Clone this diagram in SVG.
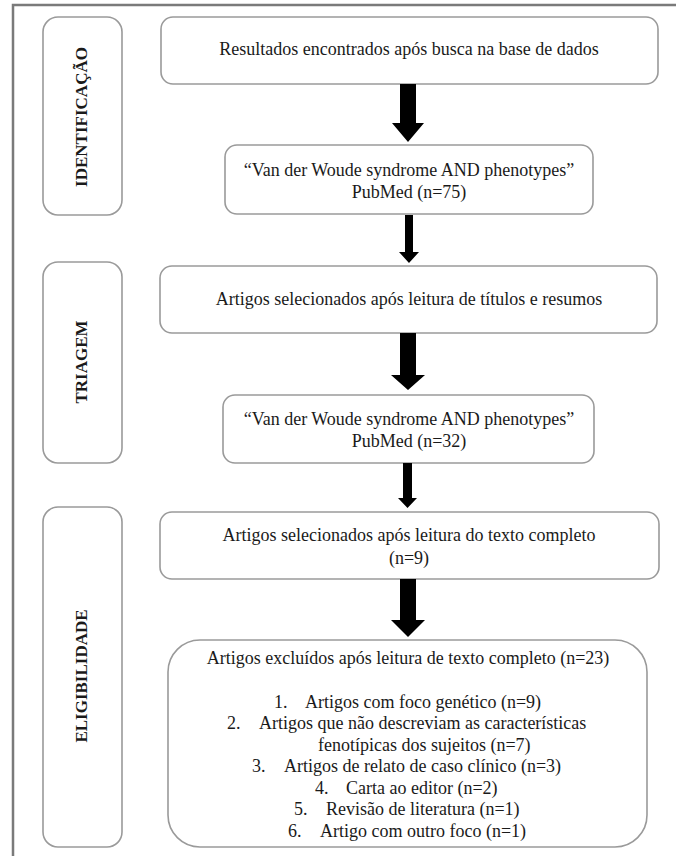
<svg xmlns="http://www.w3.org/2000/svg" width="676" height="856" viewBox="0 0 676 856">
<style>
.frame{fill:none;stroke:#7a7a7a;stroke-width:2.5}
.box{fill:#fff;stroke:#9a9a9a;stroke-width:1.6}
.t{font-family:"Liberation Serif","Times New Roman",serif;font-size:18px;fill:#1a1a1a}
.c{text-anchor:middle}
.side{font-family:"Liberation Serif","Times New Roman",serif;font-size:17px;font-weight:bold;fill:#1a1a1a;text-anchor:middle}
.arrow{fill:#000;stroke:none}
</style>
<rect width="676" height="856" fill="#fff"/>
<rect class="frame" x="13" y="5" width="700" height="900"/>

<g id="side-identificacao">
<rect class="box" x="43" y="17" width="79" height="198" rx="15"/>
<text class="side" transform="translate(87,117) rotate(-90)">IDENTIFICAÇÃO</text>
</g>
<g id="side-triagem">
<rect class="box" x="43" y="262" width="79" height="201" rx="15"/>
<text class="side" transform="translate(87,362) rotate(-90)">TRIAGEM</text>
</g>
<g id="side-elegibilidade">
<rect class="box" x="43" y="507" width="79" height="340" rx="15"/>
<text class="side" transform="translate(87,676) rotate(-90)">ELIGIBILIDADE</text>
</g>

<g id="n1">
<rect class="box" x="161" y="17" width="497" height="67" rx="12"/>
<text class="t c" x="409" y="55">Resultados encontrados após busca na base de dados</text>
</g>
<g id="n2">
<rect class="box" x="225" y="145" width="368" height="69" rx="12"/>
<text class="t c" x="409" y="176">“Van der Woude syndrome AND phenotypes”</text>
<text class="t c" x="409" y="198">PubMed (n=75)</text>
</g>
<g id="n3">
<rect class="box" x="160" y="266" width="497" height="67" rx="12"/>
<text class="t c" x="409" y="305">Artigos selecionados após leitura de títulos e resumos</text>
</g>
<g id="n4">
<rect class="box" x="223" y="395" width="371" height="68" rx="12"/>
<text class="t c" x="409" y="425">“Van der Woude syndrome AND phenotypes”</text>
<text class="t c" x="409" y="447">PubMed (n=32)</text>
</g>
<g id="n5">
<rect class="box" x="160" y="512" width="499" height="67" rx="12"/>
<text class="t c" x="409" y="541">Artigos selecionados após leitura do texto completo</text>
<text class="t c" x="409" y="564">(n=9)</text>
</g>
<g id="n6">
<rect class="box" x="168" y="640" width="479" height="207" rx="32"/>
<text class="t c" x="408" y="664">Artigos excluídos após leitura de texto completo (n=23)</text>
<text class="t" x="274" y="707.5">1.</text><text class="t" x="305" y="707.5">Artigos com foco genético (n=9)</text>
<text class="t" x="227" y="729">2.</text><text class="t" x="259" y="729">Artigos que não descreviam as características</text>
<text class="t" x="318" y="750.5">fenotípicas dos sujeitos (n=7)</text>
<text class="t" x="252" y="772">3.</text><text class="t" x="284" y="772">Artigos de relato de caso clínico (n=3)</text>
<text class="t" x="315" y="793.5">4.</text><text class="t" x="346" y="793.5">Carta ao editor (n=2)</text>
<text class="t" x="294" y="815">5.</text><text class="t" x="326" y="815">Revisão de literatura (n=1)</text>
<text class="t" x="288" y="836.5">6.</text><text class="t" x="320" y="836.5">Artigo com outro foco (n=1)</text>
</g>

<g id="connectors">
<path class="arrow" d="M400,84 H416 V123 H424 L408,142 L392,123 H400 Z"/>
<path class="arrow" d="M405,215 H413 V252 H419 L409,263 L399,252 H405 Z"/>
<path class="arrow" d="M400,333 H416 V375 H425 L408,390 L391,375 H400 Z"/>
<path class="arrow" d="M403,463 H412 V498 H417 L407.5,508 L398,498 H403 Z"/>
<path class="arrow" d="M400,579 H416 V620 H425 L408,637 L391,620 H400 Z"/>
</g>
</svg>
